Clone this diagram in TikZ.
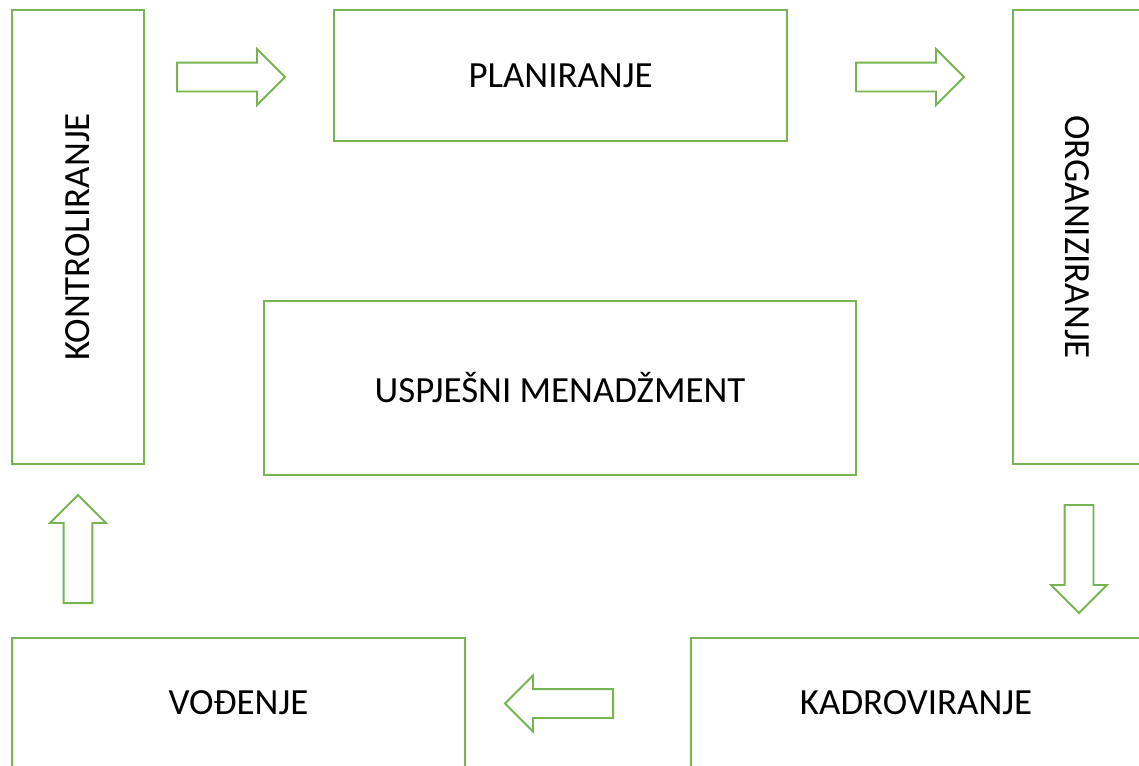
\documentclass[tikz,border=0pt]{standalone}
\usepackage{fontspec}
\setmainfont{Carlito}
\usetikzlibrary{shapes.arrows}

\definecolor{boxgreen}{RGB}{118,180,82}

\tikzset{
  box/.style={rectangle, draw=boxgreen, line width=1.1pt, fill=white, inner sep=0pt,
    font=\fontsize{21}{25}\selectfont},
  boxtext/.style={inner sep=0pt, font=\fontsize{21}{25}\selectfont},
  blockarrow/.style={single arrow, draw=boxgreen, line width=1.1pt, fill=white,
    inner sep=0pt, text height=0.54cm, text depth=0pt, minimum height=2.16cm,
    single arrow head extend=0.27cm, single arrow tip angle=90, anchor=tail}
}

\begin{document}
\begin{tikzpicture}[x=0.02cm, y=-0.02cm]
			\clip (0,0) rectangle (1139,765);
			\useasboundingbox (0,0) rectangle (1139,765);
			
			% Boxes around the centre
			\node[box, minimum width=2.64cm, minimum height=9.08cm] (kontrol) at (78,237) {};
			\node[boxtext, rotate=90] (kontroltxt) at (kontrol.center) {KONTROLIRANJE};
			\node[box, minimum width=9.06cm, minimum height=2.62cm] (plan) at (560.5,75.5) {PLANIRANJE};
			\node[box, minimum width=2.56cm, minimum height=9.08cm] (org) at (1077,237) {};
			\node[boxtext, rotate=-90] (orgtxt) at (org.center) {ORGANIZIRANJE};
			\node[box, minimum width=9.06cm, minimum height=2.6cm] (vod) at (238.5,703) {VOĐENJE};
			\node[box, minimum width=9.0cm, minimum height=2.6cm] (kadr) at (916,703) {KADROVIRANJE};
			
			% Middle box
			\node[box, minimum width=11.84cm, minimum height=3.48cm] (usp) at (560,388) {USPJEŠNI MENADŽMENT};
			
			% Block arrows
			\node[blockarrow] (a1) at (176,77) {};
			\node[blockarrow] (a2) at (855,77) {};
			\node[blockarrow, rotate=-90] (a3) at (1079,504) {};
			\node[blockarrow, rotate=180] (a4) at (614,703.5) {};
			\node[blockarrow, rotate=90] (a5) at (78,604) {};
\end{tikzpicture}
\end{document}
